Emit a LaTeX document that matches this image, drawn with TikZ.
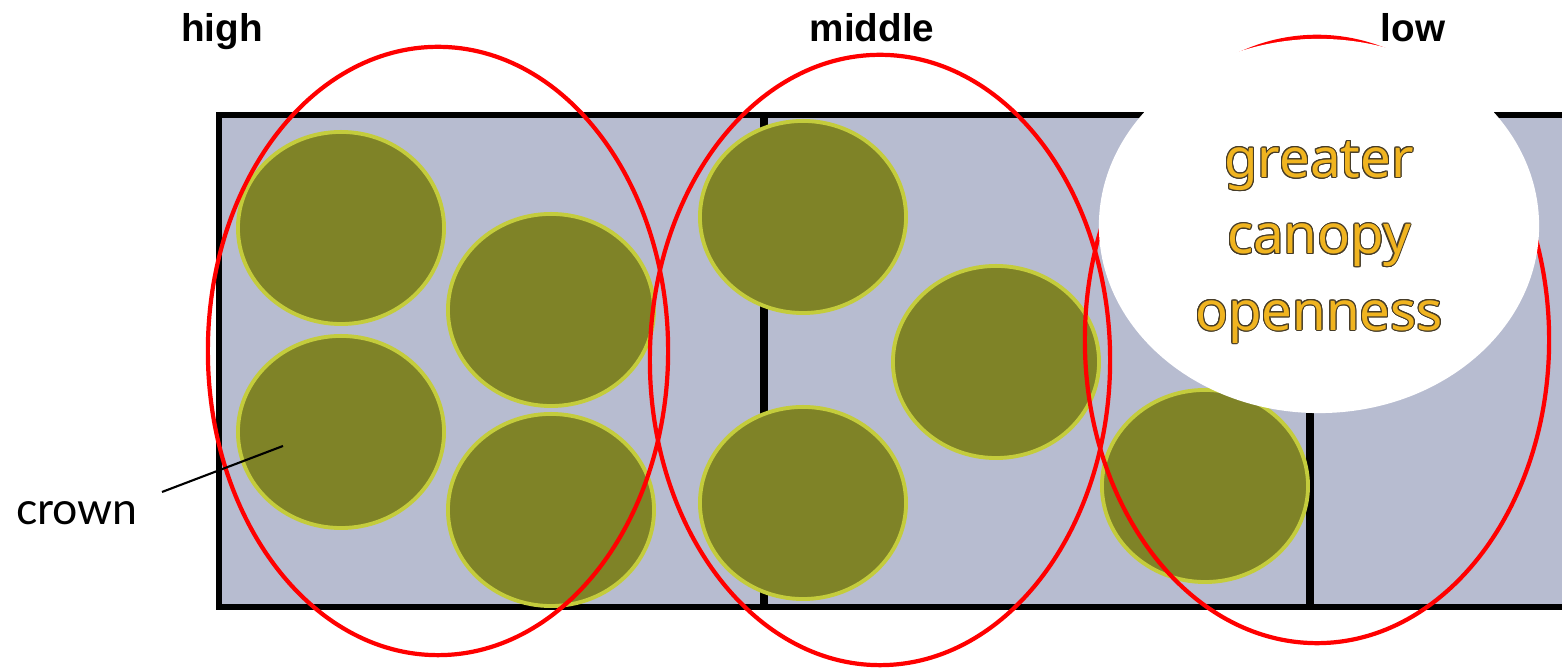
\documentclass[tikz,border=0pt]{standalone}
\usepackage{fontspec}
\usepackage{contour}
\usetikzlibrary{shapes.geometric}
\setmainfont{Liberation Sans}
\newfontfamily\labfont{Liberation Sans}
\newfontfamily\notofont{Noto Sans}
\newfontfamily\latofont{Lato}
\definecolor{plotbg}{RGB}{183,188,208}
\definecolor{crownfill}{RGB}{127,131,39}
\definecolor{crownedge}{RGB}{196,204,60}
\definecolor{txtorange}{RGB}{240,180,32}
\definecolor{txtedge}{RGB}{70,60,40}
\contourlength{0.3pt}
\contournumber{16}
\tikzset{
  crownnode/.style={ellipse, draw=crownedge, fill=crownfill, line width=1.1pt, inner sep=0pt, minimum width=2.06cm, minimum height=1.92cm},
  zonenode/.style={ellipse, draw=red, line width=1.2pt, inner sep=0pt, minimum width=4.6cm, minimum height=6.08cm},
  toplabel/.style={font=\labfont\bfseries\fontsize{11}{13}\selectfont, anchor=base, inner sep=0pt},
  framestroke/.style={line width=1.7pt, black},
  dividerstroke/.style={line width=2pt, black}
}
\begin{document}
\begin{tikzpicture}[x=0.01cm, y=-0.01cm]
\useasboundingbox (0,0) rectangle (1562,668);
% plot area
\fill[plotbg] (219,115) rectangle (1562,607);
\draw[dividerstroke] (764,115) -- (764,607);
\draw[dividerstroke] (1310,115) -- (1310,607);
\draw[framestroke] (1562,115) -- (219,115) -- (219,607) -- (1562,607);
% crowns
\node[crownnode] (c1) at (341,228) {};
\node[crownnode] (c2) at (551,310) {};
\node[crownnode] (c3) at (341,432) {};
\node[crownnode] (c4) at (551,510) {};
\node[crownnode] (c5) at (803,217) {};
\node[crownnode] (c6) at (996,362) {};
\node[crownnode] (c7) at (803,503) {};
\node[crownnode] (c8) at (1205,486) {};
% zones
\node[zonenode] (zhigh) at (438,351) {};
\node[zonenode, minimum height=6.1cm] (zmid) at (880,360) {};
\node[zonenode, minimum width=4.64cm, minimum height=6.06cm] (zlow) at (1317,340) {};
% callout
\node[ellipse, fill=white, inner sep=0pt, minimum width=4.4cm, minimum height=3.74cm] (callout) at (1319,226) {};
\node[align=center, inner sep=0pt, font=\notofont\fontsize{15.5}{21.7}\selectfont] (callouttext) at (1319,243)
  {{\color{txtorange}\contour{txtedge}{greater}}\\{\color{txtorange}\contour{txtedge}{canopy}}\\{\color{txtorange}\contour{txtedge}{openness}}};
% labels
\node[toplabel] (lhigh) at (222,42) {high};
\node[toplabel] (lmid) at (872,42) {middle};
\node[toplabel] (llow) at (1413,42) {low};
\node[anchor=base, inner sep=0pt, font=\latofont\fontsize{12.7}{15}\selectfont] (crownlabel) at (77,525) {crown};
\coordinate (leadfrom) at (162,492);
\coordinate (leadto) at (283,446);
\draw[line width=0.6pt] (leadfrom) -- (leadto);
\end{tikzpicture}
\end{document}
